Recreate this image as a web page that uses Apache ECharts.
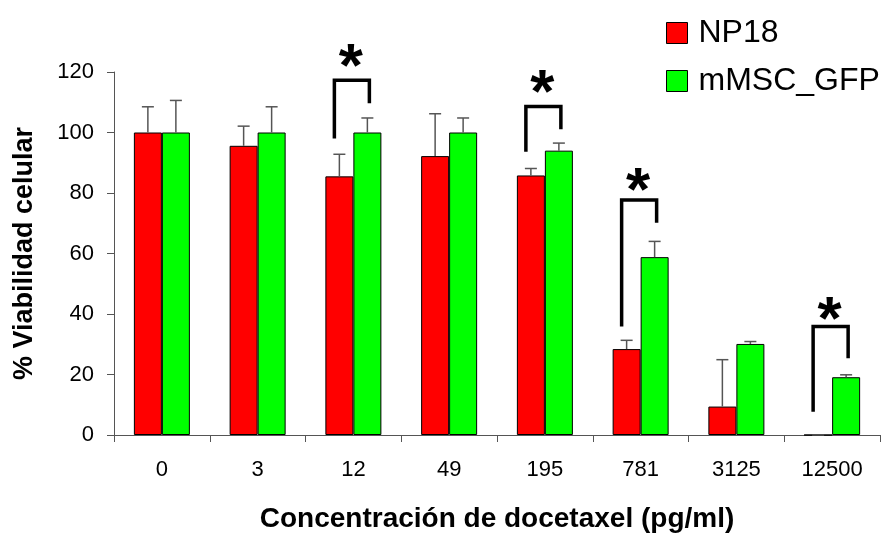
<!DOCTYPE html>
<html>
<head>
<meta charset="utf-8">
<script src="https://cdn.jsdelivr.net/npm/echarts@6/dist/echarts.min.js"></script>
<style>
html,body{margin:0;padding:0;background:#fff;}
#c{width:885px;height:538px;}
</style>
</head>
<body>
<div id="c"></div>
<script>
var categories = ['0', '3', '12', '49', '195', '781', '3125', '12500'];
var np18 = [100, 95.6, 85.5, 92.2, 85.8, 28.4, 9.4, 0];
var np18Sd = [8.5, 6.5, 7.3, 14.0, 2.3, 2.9, 15.5, 0];
var mmsc = [100, 100, 100, 100, 94.0, 58.8, 30.1, 19.1];
var mmscSd = [10.6, 8.5, 4.8, 4.8, 2.5, 5.2, 0.8, 0.8];
var yTicks = [0, 20, 40, 60, 80, 100, 120];
// significance brackets: category index, left leg bottom, right leg bottom, top, star level
var sigCats = [2, 4, 5, 7];
var sigLeft = [98.0, 93.6, 35.9, 7.7];
var sigRight = [109.7, 101.1, 70.2, 25.4];
var sigTop = [117.3, 108.6, 77.7, 35.9];
var sigStar = [125.0, 116.3, 84.0, 41.5];

var FONT = 'Liberation Sans, Arial, sans-serif';
var BAR_W = 28;

function errData(vals, sds) {
  return vals.map(function (v, i) { return [i, v, v + sds[i]]; });
}
function errSeries(name, vals, sds, sign) {
  return {
    type: 'custom', name: name + '_err', silent: true, z: 5,
    data: errData(vals, sds),
    encode: { x: 0, y: 2 },
    renderItem: function (params, api) {
      var top = api.coord([api.value(0), api.value(2)]);
      var base = api.coord([api.value(0), api.value(1)]);
      var x = top[0] + sign * BAR_W / 2;
      var style = { stroke: '#555', lineWidth: 1.5 };
      return {
        type: 'group',
        children: [
          { type: 'line', shape: { x1: x, y1: base[1], x2: x, y2: top[1] }, style: style },
          { type: 'line', shape: { x1: x - 6, y1: top[1], x2: x + 6, y2: top[1] }, style: style }
        ]
      };
    }
  };
}

var sigData = sigCats.map(function (c, i) { return [c, sigLeft[i], sigRight[i], sigTop[i], sigStar[i]]; });

var chart = echarts.init(document.getElementById('c'), null, { renderer: 'canvas' });
chart.setOption({
  animation: false,
  textStyle: { fontFamily: FONT },
  grid: { left: 114, right: 5, top: 72, bottom: 103, containLabel: false },
  legend: {
    orient: 'vertical', left: 666, top: 17, padding: 0,
    itemWidth: 21, itemHeight: 21, itemGap: 16,
    icon: 'rect',
    data: ['NP18', 'mMSC_GFP'],
    textStyle: { fontSize: 32, color: '#000', fontFamily: FONT, lineHeight: 32, padding: [0, 0, 0, 6] },
    itemStyle: { borderColor: '#000', borderWidth: 1 }
  },
  xAxis: {
    type: 'category', data: categories,
    name: 'Concentración de docetaxel (pg/ml)', nameLocation: 'middle', nameGap: 70,
    nameTextStyle: { fontSize: 28, fontWeight: 'bold', color: '#000', fontFamily: FONT },
    axisLine: { lineStyle: { color: '#555', width: 1 } },
    axisTick: { show: true, length: 7, lineStyle: { color: '#555' } },
    axisLabel: { fontSize: 22, color: '#000', margin: 24, fontFamily: FONT },
    splitLine: { show: false }
  },
  yAxis: {
    type: 'value', min: 0, max: 120, interval: 20,
    name: '% Viabilidad celular', nameLocation: 'middle', nameGap: 76,
    nameTextStyle: { fontSize: 27, fontWeight: 'bold', color: '#000', fontFamily: FONT },
    axisLine: { show: true, lineStyle: { color: '#555', width: 1 } },
    axisTick: { show: true, length: 7, lineStyle: { color: '#555' } },
    axisLabel: { fontSize: 22, color: '#000', margin: 20, fontFamily: FONT,
      formatter: function (v) { return yTicks.indexOf(v) >= 0 ? String(v) : ''; } },
    splitLine: { show: false }
  },
  series: [
    { type: 'bar', name: 'NP18', data: np18, barWidth: BAR_W, barGap: '0%',
      itemStyle: { color: '#ff0000', borderColor: '#000', borderWidth: 1 } },
    { type: 'bar', name: 'mMSC_GFP', data: mmsc, barWidth: BAR_W, barGap: '0%',
      itemStyle: { color: '#00ff00', borderColor: '#000', borderWidth: 1 } },
    errSeries('NP18', np18, np18Sd, -1),
    errSeries('mMSC_GFP', mmsc, mmscSd, 1),
    {
      type: 'custom', name: 'sig', silent: true, z: 6,
      data: sigData,
      encode: { x: 0, y: 3 },
      renderItem: function (params, api) {
        var c = api.value(0);
        var pl = api.coord([c, api.value(1)]);
        var pr = api.coord([c, api.value(2)]);
        var pt = api.coord([c, api.value(3)]);
        var ps = api.coord([c, api.value(4)]);
        var xl = pt[0] - 19, xr = pt[0] + 16;
        return {
          type: 'group',
          children: [
            { type: 'polyline',
              shape: { points: [[xl, pl[1]], [xl, pt[1]], [xr, pt[1]], [xr, pr[1]]] },
              style: { stroke: '#000', lineWidth: 3.5, fill: null, lineJoin: 'miter' } },
            { type: 'text',
              style: { text: '*', x: (xl + xr) / 2 - 1, y: ps[1] + 43, align: 'center', verticalAlign: 'bottom',
                font: 'bold 62px ' + FONT, fill: '#000' } }
          ]
        };
      }
    }
  ]
});
</script>
</body>
</html>
